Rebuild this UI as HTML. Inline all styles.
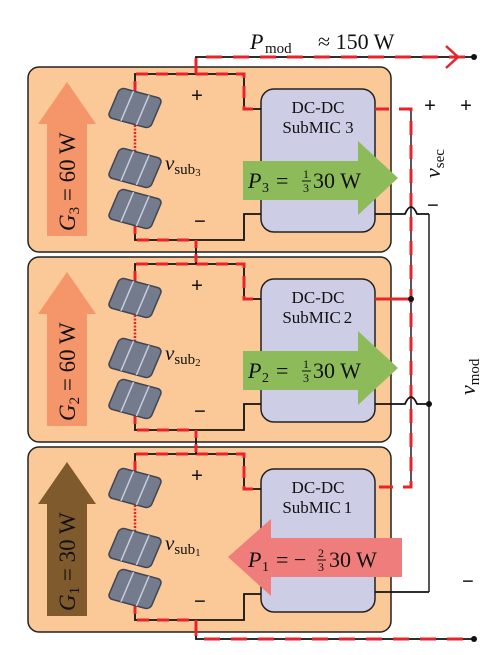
<!DOCTYPE html>
<html><head><meta charset="utf-8"><style>
html,body{margin:0;padding:0;background:#fff;width:501px;height:655px;overflow:hidden}
svg{display:block}
text{font-family:"Liberation Serif",serif;fill:#111}
</style></head><body>
<svg width="501" height="655" viewBox="0 0 501 655" xmlns="http://www.w3.org/2000/svg">
<defs>
<g id="cell">
  <rect x="-22" y="-16" width="44" height="32" rx="5" fill="#737b8c" stroke="#3e4556" stroke-width="1.5"/>
  <line x1="-8" y1="-16" x2="-8" y2="16" stroke="#c9cedb" stroke-width="1.5"/>
  <line x1="8" y1="-16" x2="8" y2="16" stroke="#c9cedb" stroke-width="1.5"/>
</g>
<g id="panel">
  <rect x="28" y="67" width="363" height="185" rx="11" fill="#fbc997" stroke="#222" stroke-width="1.5"/>
  <rect x="261" y="89" width="114" height="143" rx="13" fill="#cdcde6" stroke="#222" stroke-width="1.5"/>
  <path d="M135,93 V74 H244 V109 H261" fill="none" stroke="#111" stroke-width="1.8"/>
  <path d="M135,93 V74 H244 V109 H261" fill="none" stroke="#e8232a" stroke-width="3" stroke-dasharray="12,8"/>
  <path d="M135,222 V240 H244 V214 H261" fill="none" stroke="#111" stroke-width="1.8"/>
  <path d="M135,222 V240 H196" fill="none" stroke="#e8232a" stroke-width="3" stroke-dasharray="12,8"/>
  <line x1="135" y1="125" x2="135" y2="152" stroke="#e8232a" stroke-width="2.5" stroke-dasharray="2,1.5"/>
  <use href="#cell" transform="translate(135,108) rotate(15) skewX(-8)"/>
  <use href="#cell" transform="translate(135,168) rotate(15) skewX(-8)"/>
  <use href="#cell" transform="translate(135,209) rotate(15) skewX(-8)"/>
  <text x="197" y="102" font-size="21" text-anchor="middle" font-family="Liberation Sans" font-weight="bold">+</text>
  <text x="200" y="228" font-size="21" text-anchor="middle" font-family="Liberation Sans" font-weight="bold">−</text>
  <text x="318" y="113" font-size="17" text-anchor="middle">DC-DC</text>
  <text x="318" y="133" font-size="17" text-anchor="middle">SubMIC 3</text>
</g>
</defs>

<use href="#panel"/>
<g transform="translate(0,190)"><use href="#panel"/></g>
<g transform="translate(0,380)"><use href="#panel"/></g>
<rect x="340" y="306" width="16" height="18" fill="#cdcde6"/>
<text x="348" y="323" font-size="17" text-anchor="middle">2</text>
<rect x="340" y="496" width="16" height="18" fill="#cdcde6"/>
<text x="348" y="513" font-size="17" text-anchor="middle">1</text>

<path d="M196,240 V264" stroke="#111" stroke-width="1.8"/>
<path d="M196,240 V264" stroke="#e8232a" stroke-width="3" stroke-dasharray="8,6"/>
<path d="M196,430 V454" stroke="#111" stroke-width="1.8"/>
<path d="M196,430 V454" stroke="#e8232a" stroke-width="3" stroke-dasharray="8,6"/>

<path d="M196,74 V57 H473" fill="none" stroke="#111" stroke-width="1.8"/>
<path d="M196,74 V57 H470" fill="none" stroke="#e8232a" stroke-width="3" stroke-dasharray="16,11"/>
<path d="M446,46 L458,57 L446,68" fill="none" stroke="#e8232a" stroke-width="2.5"/>
<circle cx="474" cy="57" r="3" fill="#111"/>
<text x="250" y="49" font-size="22" font-style="italic">P</text>
<text x="265" y="53" font-size="15">mod</text>
<text x="318" y="49" font-size="22">≈ 150  W</text>

<path d="M196,620 V639 H474" fill="none" stroke="#111" stroke-width="1.8"/>
<path d="M196,620 V639 H470" fill="none" stroke="#e8232a" stroke-width="3" stroke-dasharray="16,11"/>
<circle cx="474" cy="639" r="3" fill="#111"/>

<line x1="411" y1="109" x2="411" y2="487" stroke="#444" stroke-width="1.8"/>
<path d="M375,109 H411 V487 H375" fill="none" stroke="#e8232a" stroke-width="3" stroke-dasharray="14,10"/>
<line x1="375" y1="299" x2="411" y2="299" stroke="#e8232a" stroke-width="3"/>
<circle cx="411" cy="299" r="3" fill="#111"/>
<line x1="429" y1="214" x2="429" y2="592" stroke="#444" stroke-width="1.8"/>
<path d="M375,214 H405 Q411,200 417,214 H429" fill="none" stroke="#111" stroke-width="1.8"/>
<path d="M375,404 H405 Q411,390 417,404 H429" fill="none" stroke="#111" stroke-width="1.8"/>
<circle cx="429" cy="404" r="3" fill="#111"/>
<path d="M375,592 H429" fill="none" stroke="#111" stroke-width="1.8"/>

<text x="430" y="112" font-size="21" text-anchor="middle" font-family="Liberation Sans" font-weight="bold">+</text>
<text x="466" y="112" font-size="21" text-anchor="middle" font-family="Liberation Sans" font-weight="bold">+</text>
<text x="433" y="212" font-size="21" text-anchor="middle" font-family="Liberation Sans" font-weight="bold">−</text>
<text x="468" y="588" font-size="21" text-anchor="middle" font-family="Liberation Sans" font-weight="bold">−</text>
<text transform="translate(440,178) rotate(-90)" font-size="22" font-style="italic">v<tspan font-style="normal" font-size="15" dy="4">sec</tspan></text>
<text transform="translate(475,395) rotate(-90)" font-size="22" font-style="italic">v<tspan font-style="normal" font-size="15" dy="4">mod</tspan></text>

<text x="165" y="170" font-size="21" font-style="italic">v<tspan font-style="normal" font-size="15" dy="4">sub</tspan><tspan font-style="normal" font-size="11" dy="2">3</tspan></text>
<text x="165" y="360" font-size="21" font-style="italic">v<tspan font-style="normal" font-size="15" dy="4">sub</tspan><tspan font-style="normal" font-size="11" dy="2">2</tspan></text>
<text x="165" y="550" font-size="21" font-style="italic">v<tspan font-style="normal" font-size="15" dy="4">sub</tspan><tspan font-style="normal" font-size="11" dy="2">1</tspan></text>

<path d="M38,124 L67,82 L96,124 L87,124 L87,236 L47,236 L47,124 Z" fill="#f4956a"/>
<text transform="translate(75,231) rotate(-90)" font-size="23"><tspan font-style="italic">G</tspan><tspan font-size="15" dy="4">3</tspan><tspan dy="-4"> = 60 W</tspan></text>
<path d="M38,314 L67,272 L96,314 L87,314 L87,426 L47,426 L47,314 Z" fill="#f4956a"/>
<text transform="translate(75,421) rotate(-90)" font-size="23"><tspan font-style="italic">G</tspan><tspan font-size="15" dy="4">2</tspan><tspan dy="-4"> = 60 W</tspan></text>
<path d="M38,504 L67,462 L96,504 L87,504 L87,616 L47,616 L47,504 Z" fill="#7f5a2c"/>
<text transform="translate(75,611) rotate(-90)" font-size="23"><tspan font-style="italic">G</tspan><tspan font-size="15" dy="4">1</tspan><tspan dy="-4"> = 30 W</tspan></text>

<path d="M243,161 H358 V141 L398,178 L358,215 V200 H243 Z" fill="#8dbb5a"/>
<text x="248" y="188" font-size="22" font-style="italic">P</text>
<text x="262" y="192" font-size="14">3</text>
<text x="276" y="188" font-size="22">=</text>
<text x="303" y="178" font-size="12">1</text><line x1="302" y1="181" x2="311" y2="181" stroke="#111" stroke-width="1"/><text x="303" y="192" font-size="12">3</text>
<text x="313" y="188" font-size="22">30  W</text>

<path d="M243,351 H358 V331 L398,368 L358,405 V390 H243 Z" fill="#8dbb5a"/>
<text x="248" y="378" font-size="22" font-style="italic">P</text>
<text x="262" y="382" font-size="14">2</text>
<text x="276" y="378" font-size="22">=</text>
<text x="303" y="368" font-size="12">1</text><line x1="302" y1="371" x2="311" y2="371" stroke="#111" stroke-width="1"/><text x="303" y="382" font-size="12">3</text>
<text x="313" y="378" font-size="22">30  W</text>

<path d="M402,538 H271 V519 L228,557 L271,596 V577 H402 Z" fill="#ee7d7b"/>
<text x="248" y="567" font-size="22" font-style="italic">P</text>
<text x="262" y="571" font-size="14">1</text>
<text x="276" y="567" font-size="22">= −</text>
<text x="318" y="557" font-size="12">2</text><line x1="317" y1="560" x2="326" y2="560" stroke="#111" stroke-width="1"/><text x="318" y="571" font-size="12">3</text>
<text x="329" y="567" font-size="22">30  W</text>
</svg>
</body></html>
